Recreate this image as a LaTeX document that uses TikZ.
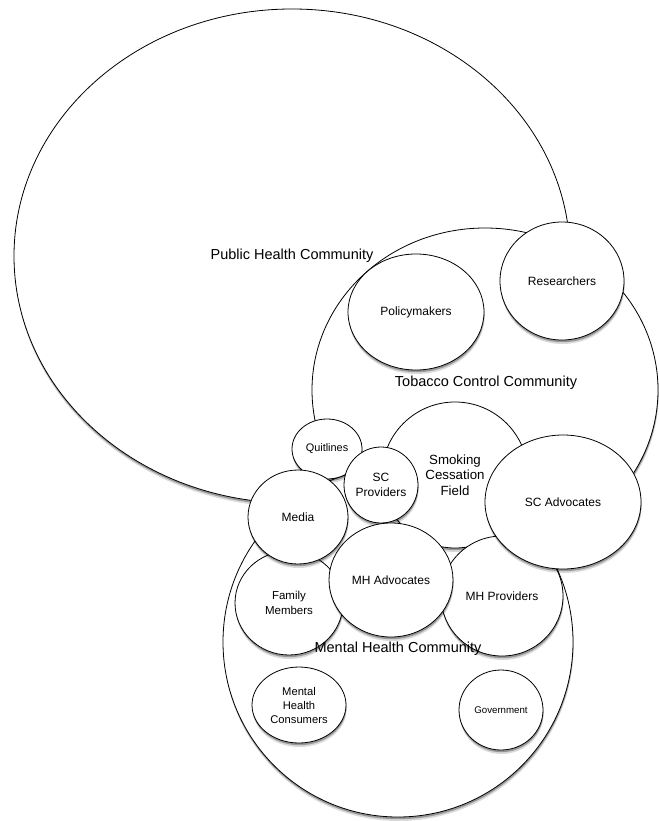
\documentclass[tikz,border=0pt]{standalone}
\usepackage{fontspec}
\setmainfont{Liberation Sans}
\usetikzlibrary{shapes.geometric,shadows}
\tikzset{
    blob/.style={ellipse,draw,fill=white,line width=0.8pt,inner sep=0pt,align=center,
        drop shadow={shadow xshift=0.6pt,shadow yshift=-4pt,fill=black,opacity=0.15},
        drop shadow={shadow xshift=0.4pt,shadow yshift=-2.2pt,fill=black,opacity=0.3},
        font=\fontsize{12}{15}\selectfont},
    dims/.style 2 args={minimum width=#1pt,minimum height=#2pt},
    bigtext/.style={font=\fontsize{14.5}{17}\selectfont}
}

\begin{document}
\begin{tikzpicture}[x=1pt,y=-1pt]
    \useasboundingbox (0,0) rectangle (658,821);
    % communities
    \node[blob,dims={556}{494}] (ph) at (292,256) {};
    \node[blob,dims={346}{324}] (tc) at (485,390) {};
    \node[blob,dims={124}{118}] (res) at (562,281) {Researchers};
    \node[blob,dims={136}{116}] (pol) at (416,312) {Policymakers};
    \node[blob,dims={350}{350}] (mh) at (398,642) {};
    % overlapping groups
    \node[blob,dims={146}{146},font=\fontsize{13.3}{15.5}\selectfont] (scf) at (455,475) {Smoking\\Cessation\\Field};
    \node[blob,dims={70}{60},font=\fontsize{10.9}{13}\selectfont] (quit) at (327,449) {Quitlines};
    \node[blob,dims={74}{76}] (scp) at (381,485) {SC\\Providers};
    \node[blob,dims={122}{120}] (mhp) at (502,596) {MH Providers};
    \node[blob,dims={156}{134}] (sca) at (563,502) {SC Advocates};
    \node[blob,dims={108}{104},font=\fontsize{11.5}{14.3}\selectfont] (fam) at (289,603) {Family\\Members};
    \node[blob,dims={124}{114}] (mha) at (391,580) {MH Advocates};
    \node[blob,dims={100}{94}] (media) at (298,517) {Media};
    \node[blob,dims={94}{76},font=\fontsize{11.2}{14}\selectfont] (cons) at (299,705) {Mental\\Health\\Consumers};
    \node[blob,dims={84}{80},font=\fontsize{9.7}{12}\selectfont] (gov) at (501,710) {Government};
    % community labels
    \node[bigtext] (phlabel) at (292,256) {Public Health Community};
    \node[bigtext] (tclabel) at (486,383) {Tobacco Control Community};
    \node[bigtext] (mhlabel) at (398,649) {Mental Health Community};
\end{tikzpicture}
\end{document}
